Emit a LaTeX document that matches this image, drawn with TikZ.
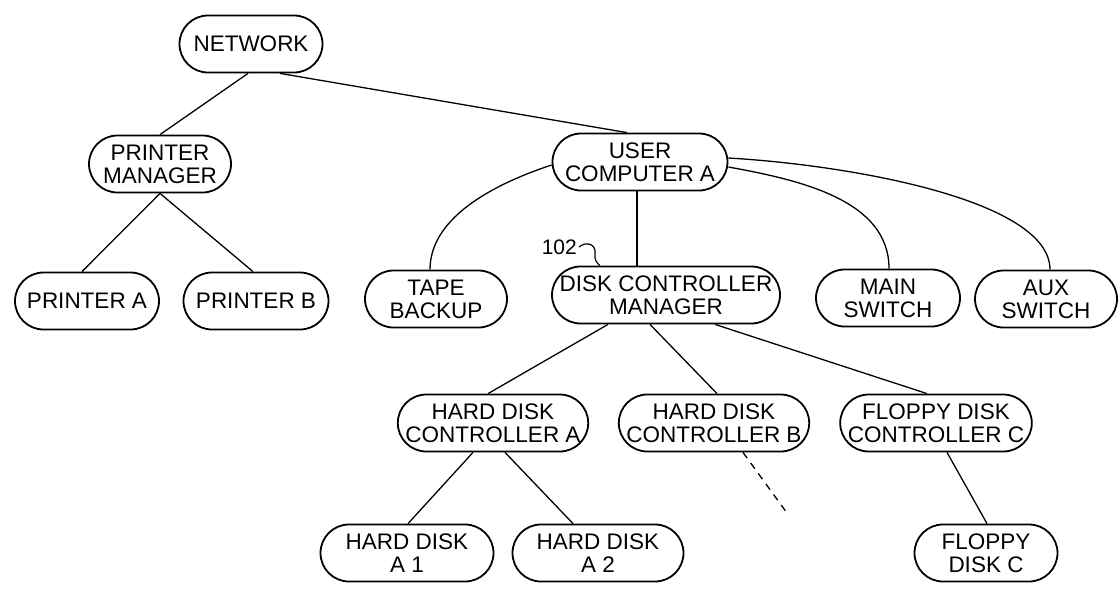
\documentclass[tikz,border=0pt]{standalone}
\usepackage{fontspec}
\setmainfont{Liberation Sans}
\usetikzlibrary{shapes.misc}
\begin{document}
\begin{tikzpicture}[x=1pt,y=-1pt,
  box/.style={rounded rectangle, draw, line width=1.8pt, minimum height=57pt,
    inner sep=0pt, align=center, font=\fontsize{22.5}{23}\selectfont},
  link/.style={line width=1.3pt},
  dashlink/.style={line width=1.3pt, dash pattern=on 7pt off 6pt},
  reflabel/.style={inner sep=0pt, font=\fontsize{21}{22}\selectfont}]
\useasboundingbox (0,0) rectangle (1119,592);

\node[box, minimum width=143pt] (net) at (251,44) {NETWORK};
\node[box, minimum width=142pt] (pm) at (160,164) {PRINTER\\MANAGER};
\node[box, minimum width=175pt] (uca) at (640,162) {USER\\COMPUTER A};
\node[box, minimum width=144pt] (pa) at (87,301) {PRINTER A};
\node[box, minimum width=145pt] (pb) at (256,301) {PRINTER B};
\node[box, minimum width=142pt] (tape) at (436,299) {TAPE\\BACKUP};
\node[box, minimum width=228pt] (dcm) at (666,295) {DISK CONTROLLER\\MANAGER};
\node[box, minimum width=144pt] (main) at (888,298) {MAIN\\SWITCH};
\node[box, minimum width=142pt] (aux) at (1046,299) {AUX\\SWITCH};
\node[box, minimum width=189pt] (hdca) at (493,423) {HARD DISK\\CONTROLLER A};
\node[box, minimum width=188pt] (hdcb) at (714,423) {HARD DISK\\CONTROLLER B};
\node[box, minimum width=188pt] (fdcc) at (936,423) {FLOPPY DISK\\CONTROLLER C};
\node[box, minimum width=173pt] (a1) at (407,553) {HARD DISK\\A 1};
\node[box, minimum width=171pt] (a2) at (598,553) {HARD DISK\\A 2};
\node[box, minimum width=143pt] (fdc) at (986,553) {FLOPPY\\DISK C};

\node[reflabel, anchor=east] (lbl) at (577,247) {102};

\coordinate (dashend) at (787,513);

% connectors
\draw[link] ([xshift=-3pt]net.south) -- (pm.north);
\draw[link] ([xshift=29pt]net.south) -- ([xshift=-13pt]uca.north);
\draw[link] (pm.south) -- ([xshift=-5pt]pa.north);
\draw[link] (pm.south) -- ([xshift=-3pt]pb.north);
\draw[link] ([yshift=-3pt]uca.west) .. controls (500,182) and (430,215) .. ([xshift=-6pt]tape.north);
\draw[link] ([xshift=-3pt]uca.south) -- ([xshift=-29pt]dcm.north);
\draw[link] ([yshift=-5pt]uca.east) .. controls (800,180) and (889,200) .. ([xshift=1pt]main.north);
\draw[link] ([yshift=4pt]uca.east) .. controls (850,165) and (1050,200) .. ([xshift=4pt]aux.north);
\draw[link] ([xshift=-58pt]dcm.south) -- ([xshift=-5pt]hdca.north);
\draw[link] ([xshift=-16pt]dcm.south) -- ([xshift=3pt]hdcb.north);
\draw[link] ([xshift=49pt]dcm.south) -- ([xshift=-9pt]fdcc.north);
\draw[link] ([xshift=-20pt]hdca.south) -- ([xshift=1pt]a1.north);
\draw[link] ([xshift=12pt]hdca.south) -- ([xshift=-25pt]a2.north);
\draw[link] ([xshift=11pt]fdcc.south) -- ([xshift=1pt]fdc.north);
\draw[dashlink] ([xshift=29pt]hdcb.south) -- (dashend);
\draw[line width=1.2pt] ([xshift=2pt]lbl.east) .. controls (586,241) and (596,244) .. (595,253)
  .. controls (594,260) and (597,263) .. ([xshift=-66pt]dcm.north);
\end{tikzpicture}
\end{document}
